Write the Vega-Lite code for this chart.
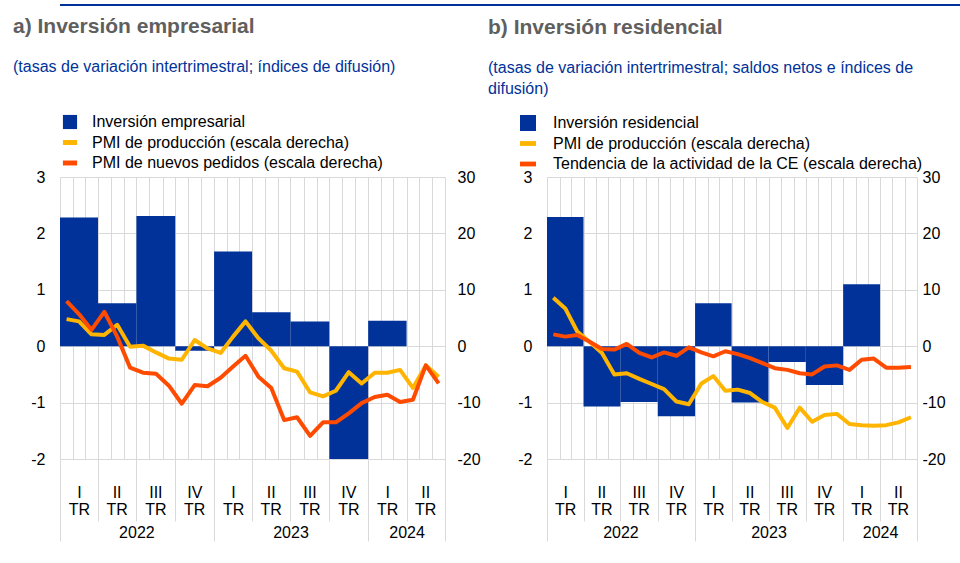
{
  "$schema": "https://vega.github.io/schema/vega-lite/v6.json",
  "padding": {"left": 13, "top": 4, "right": 5, "bottom": 5},
  "background": "white",
  "config": {
    "font": "Liberation Sans",
    "view": {"stroke": null},
    "axis": {"labelFont": "Liberation Sans", "labelFontSize": 16, "labelColor": "#000000"},
    "legend": {"labelFont": "Liberation Sans"}
  },
  "datasets": {
    "barras_a": [
      {"inicio": "2022-01-01", "fin": "2022-04-01", "valor": 2.28},
      {"inicio": "2022-04-01", "fin": "2022-07-01", "valor": 0.76},
      {"inicio": "2022-07-01", "fin": "2022-10-01", "valor": 2.31},
      {"inicio": "2022-10-01", "fin": "2023-01-01", "valor": -0.08},
      {"inicio": "2023-01-01", "fin": "2023-04-01", "valor": 1.68},
      {"inicio": "2023-04-01", "fin": "2023-07-01", "valor": 0.6},
      {"inicio": "2023-07-01", "fin": "2023-10-01", "valor": 0.44},
      {"inicio": "2023-10-01", "fin": "2024-01-01", "valor": -2.0},
      {"inicio": "2024-01-01", "fin": "2024-04-01", "valor": 0.45}
    ],
    "lineas_a": [
      {"fecha": "2022-01-01", "prod": 4.8, "ped": 8.0},
      {"fecha": "2022-02-01", "prod": 4.4, "ped": 5.7},
      {"fecha": "2022-03-01", "prod": 2.1, "ped": 2.9},
      {"fecha": "2022-04-01", "prod": 2.0, "ped": 6.1},
      {"fecha": "2022-05-01", "prod": 3.8, "ped": 1.7},
      {"fecha": "2022-06-01", "prod": -0.1, "ped": -3.8},
      {"fecha": "2022-07-01", "prod": 0.1, "ped": -4.7},
      {"fecha": "2022-08-01", "prod": -1.1, "ped": -4.9},
      {"fecha": "2022-09-01", "prod": -2.2, "ped": -7.0},
      {"fecha": "2022-10-01", "prod": -2.4, "ped": -10.2},
      {"fecha": "2022-11-01", "prod": 1.1, "ped": -6.9},
      {"fecha": "2022-12-01", "prod": -0.4, "ped": -7.1},
      {"fecha": "2023-01-01", "prod": -1.2, "ped": -5.6},
      {"fecha": "2023-02-01", "prod": 1.7, "ped": -3.6},
      {"fecha": "2023-03-01", "prod": 4.4, "ped": -1.7},
      {"fecha": "2023-04-01", "prod": 1.4, "ped": -5.4},
      {"fecha": "2023-05-01", "prod": -0.8, "ped": -7.4},
      {"fecha": "2023-06-01", "prod": -3.9, "ped": -13.1},
      {"fecha": "2023-07-01", "prod": -4.5, "ped": -12.6},
      {"fecha": "2023-08-01", "prod": -8.2, "ped": -15.9},
      {"fecha": "2023-09-01", "prod": -8.9, "ped": -13.5},
      {"fecha": "2023-10-01", "prod": -7.9, "ped": -13.5},
      {"fecha": "2023-11-01", "prod": -4.6, "ped": -11.9},
      {"fecha": "2023-12-01", "prod": -6.6, "ped": -10.1},
      {"fecha": "2024-01-01", "prod": -4.7, "ped": -9.0},
      {"fecha": "2024-02-01", "prod": -4.7, "ped": -8.6},
      {"fecha": "2024-03-01", "prod": -4.2, "ped": -9.9},
      {"fecha": "2024-04-01", "prod": -7.4, "ped": -9.5},
      {"fecha": "2024-05-01", "prod": -3.4, "ped": -3.4},
      {"fecha": "2024-06-01", "prod": -5.4, "ped": -6.6}
    ],
    "barras_b": [
      {"inicio": "2022-01-01", "fin": "2022-04-01", "valor": 2.29},
      {"inicio": "2022-04-01", "fin": "2022-07-01", "valor": -1.07},
      {"inicio": "2022-07-01", "fin": "2022-10-01", "valor": -0.99},
      {"inicio": "2022-10-01", "fin": "2023-01-01", "valor": -1.24},
      {"inicio": "2023-01-01", "fin": "2023-04-01", "valor": 0.76},
      {"inicio": "2023-04-01", "fin": "2023-07-01", "valor": -1.0},
      {"inicio": "2023-07-01", "fin": "2023-10-01", "valor": -0.28},
      {"inicio": "2023-10-01", "fin": "2024-01-01", "valor": -0.69},
      {"inicio": "2024-01-01", "fin": "2024-04-01", "valor": 1.1}
    ],
    "lineas_b": [
      {"fecha": "2022-01-01", "prod": 8.6, "tend": 2.1},
      {"fecha": "2022-02-01", "prod": 6.7, "tend": 1.7},
      {"fecha": "2022-03-01", "prod": 2.6, "tend": 2.0},
      {"fecha": "2022-04-01", "prod": 0.8, "tend": 0.8},
      {"fecha": "2022-05-01", "prod": -1.2, "tend": -0.5},
      {"fecha": "2022-06-01", "prod": -5.0, "tend": -0.6},
      {"fecha": "2022-07-01", "prod": -4.8, "tend": 0.4},
      {"fecha": "2022-08-01", "prod": -5.8, "tend": -1.2},
      {"fecha": "2022-09-01", "prod": -6.7, "tend": -2.0},
      {"fecha": "2022-10-01", "prod": -7.6, "tend": -1.1},
      {"fecha": "2022-11-01", "prod": -9.8, "tend": -1.7},
      {"fecha": "2022-12-01", "prod": -10.3, "tend": -0.2},
      {"fecha": "2023-01-01", "prod": -6.6, "tend": -1.1},
      {"fecha": "2023-02-01", "prod": -5.3, "tend": -1.8},
      {"fecha": "2023-03-01", "prod": -7.9, "tend": -0.9},
      {"fecha": "2023-04-01", "prod": -7.7, "tend": -1.4},
      {"fecha": "2023-05-01", "prod": -8.3, "tend": -2.1},
      {"fecha": "2023-06-01", "prod": -9.9, "tend": -3.0},
      {"fecha": "2023-07-01", "prod": -10.9, "tend": -3.9},
      {"fecha": "2023-08-01", "prod": -14.5, "tend": -4.2},
      {"fecha": "2023-09-01", "prod": -10.9, "tend": -4.8},
      {"fecha": "2023-10-01", "prod": -13.4, "tend": -5.0},
      {"fecha": "2023-11-01", "prod": -12.2, "tend": -3.6},
      {"fecha": "2023-12-01", "prod": -12.0, "tend": -3.4},
      {"fecha": "2024-01-01", "prod": -13.8, "tend": -4.2},
      {"fecha": "2024-02-01", "prod": -14.0, "tend": -2.4},
      {"fecha": "2024-03-01", "prod": -14.1, "tend": -2.2},
      {"fecha": "2024-04-01", "prod": -14.0, "tend": -3.8},
      {"fecha": "2024-05-01", "prod": -13.5, "tend": -3.8},
      {"fecha": "2024-06-01", "prod": -12.6, "tend": -3.7}
    ]
  },
  "spacing": 9,
  "vconcat": [
    {
      "width": 942,
      "height": 2,
      "data": {"values": [{"v": 1}]},
      "mark": {"type": "rule", "color": "#003299", "strokeWidth": 2},
      "encoding": {"y": {"field": "v", "type": "quantitative", "scale": {"domain": [0, 1]}, "axis": null}}
    },
    {
      "spacing": 7,
      "resolve": {"scale": {"color": "independent"}, "legend": {"color": "independent"}},
      "hconcat": [
        {
          "width": 385,
          "height": 282,
          "title": {
            "text": "a) Inversión empresarial",
            "subtitle": "(tasas de variación intertrimestral; índices de difusión)",
            "anchor": "start", "frame": "group", "dx": -47, "offset": 39,
            "font": "Liberation Sans", "fontSize": 21, "fontWeight": "bold", "color": "#5f5f5f",
            "subtitleFont": "Liberation Sans", "subtitleFontSize": 16, "subtitleColor": "#003299",
            "subtitlePadding": 22, "subtitleLineHeight": 21
          },
          "resolve": {"scale": {"x": "independent", "y": "independent"}},
          "layer": [
            {
              "data": {"name": "barras_a"},
              "mark": {"type": "bar"},
              "encoding": {
                "x": {
                  "field": "inicio", "type": "temporal",
                  "scale": {"type": "utc", "domain": [{"year": 2022, "month": 1, "date": 1, "utc": true}, {"year": 2024, "month": 7, "date": 1, "utc": true}], "nice": false},
                  "axis": {
                    "orient": "bottom", "title": null, "tickCount": {"interval": "month", "step": 1},
                    "grid": true, "gridColor": "#d9d9d9", "gridWidth": 1, "domain": false, "labels": false,
                    "ticks": true, "tickColor": "#d9d9d9", "tickWidth": 1,
                    "tickSize": {"condition": {"test": "utcmonth(datum.value) == 0 || (utcyear(datum.value) == 2024 && utcmonth(datum.value) == 6)", "value": 82}, "value": 62},
                    "tickOpacity": {"condition": {"test": "utcmonth(datum.value) % 3 != 0", "value": 0}, "value": 1}
                  }
                },
                "x2": {"field": "fin"},
                "y": {
                  "field": "valor", "type": "quantitative",
                  "scale": {"domain": [-2, 3], "nice": false},
                  "axis": {"orient": "left", "title": null, "values": [-2, -1, 0, 1, 2, 3], "labelExpr": "'' + datum.value", "grid": true, "gridColor": "#d9d9d9", "domain": false, "ticks": false, "labelPadding": 15}
                },
                "y2": {"datum": 0},
                "color": {
                  "datum": "Inversión empresarial", "type": "nominal",
                  "scale": {"domain": ["Inversión empresarial", "PMI de producción (escala derecha)", "PMI de nuevos pedidos (escala derecha)"], "range": ["#003299", "#ffb400", "#ff4b00"]},
                  "legend": {
                    "orient": "none", "legendX": 2, "legendY": -63, "title": null, "direction": "vertical",
                    "symbolSize": 200, "labelFontSize": 16, "labelColor": "#000000", "labelOffset": 14,
                    "rowPadding": 4.5, "labelLimit": 600, "padding": 0, "symbolStrokeWidth": 0,
                    "encode": {
                      "symbols": {
                        "update": {
                          "shape": {"signal": "datum.value == 'Inversión empresarial' ? 'square' : 'M-1,-0.35H1V0.35H-1Z'"},
                          "fill": {"signal": "datum.value == 'Inversión empresarial' ? '#003299' : (datum.value == 'PMI de producción (escala derecha)' ? '#ffb400' : '#ff4b00')"},
                          "stroke": {"value": "transparent"},
                          "opacity": {"value": 1}
                        }
                      }
                    }
                  }
                }
              }
            },
            {
              "data": {"name": "lineas_a"},
              "mark": {"type": "line", "strokeWidth": 4, "strokeJoin": "round"},
              "encoding": {
                "x": {
                  "field": "fecha", "timeUnit": "utcyearmonth", "type": "temporal", "bandPosition": 0.5,
                  "scale": {"type": "utc", "domain": [{"year": 2022, "month": 1, "date": 1, "utc": true}, {"year": 2024, "month": 7, "date": 1, "utc": true}], "nice": false},
                  "axis": {
                    "orient": "bottom", "title": null,
                    "values": [
                      {"year": 2022, "month": 2, "date": 15, "utc": true}, {"year": 2022, "month": 5, "date": 15, "utc": true},
                      {"year": 2022, "month": 8, "date": 15, "utc": true}, {"year": 2022, "month": 11, "date": 15, "utc": true},
                      {"year": 2023, "month": 2, "date": 15, "utc": true}, {"year": 2023, "month": 5, "date": 15, "utc": true},
                      {"year": 2023, "month": 8, "date": 15, "utc": true}, {"year": 2023, "month": 11, "date": 15, "utc": true},
                      {"year": 2024, "month": 2, "date": 15, "utc": true}, {"year": 2024, "month": 5, "date": 15, "utc": true}
                    ],
                    "labelExpr": "[['I','II','III','IV'][floor(utcmonth(datum.value)/3)], 'TR']",
                    "grid": false, "domain": false, "ticks": false, "labelPadding": 25, "labelLineHeight": 17.5,
                    "labelOverlap": false, "labelFlush": false, "labelBound": false
                  }
                },
                "y": {
                  "field": "prod", "type": "quantitative",
                  "scale": {"domain": [-20, 30], "nice": false},
                  "axis": {"orient": "right", "title": null, "values": [-20, -10, 0, 10, 20, 30], "labelExpr": "'' + datum.value", "grid": false, "domain": false, "ticks": false, "labelPadding": 12}
                },
                "color": {"datum": "PMI de producción (escala derecha)", "type": "nominal"}
              }
            },
            {
              "data": {"name": "lineas_a"},
              "mark": {"type": "line", "strokeWidth": 4, "strokeJoin": "round"},
              "encoding": {
                "x": {
                  "field": "fecha", "timeUnit": "utcyearmonth", "type": "temporal", "bandPosition": 0.5,
                  "scale": {"type": "utc", "domain": [{"year": 2022, "month": 1, "date": 1, "utc": true}, {"year": 2024, "month": 7, "date": 1, "utc": true}], "nice": false},
                  "axis": {
                    "orient": "bottom", "title": null,
                    "values": [{"year": 2022, "month": 7, "date": 1, "utc": true}, {"year": 2023, "month": 7, "date": 1, "utc": true}, {"year": 2024, "month": 4, "date": 1, "utc": true}],
                    "labelExpr": "'' + utcyear(datum.value)",
                    "grid": false, "domain": false, "ticks": false, "labelPadding": 65,
                    "labelOverlap": false, "labelFlush": false, "labelBound": false
                  }
                },
                "y": {
                  "field": "ped", "type": "quantitative",
                  "scale": {"domain": [-20, 30], "nice": false},
                  "axis": null
                },
                "color": {"datum": "PMI de nuevos pedidos (escala derecha)", "type": "nominal"}
              }
            }
          ]
        },
        {
          "width": 370,
          "height": 282,
          "title": {
            "text": "b) Inversión residencial",
            "subtitle": ["(tasas de variación intertrimestral; saldos netos e índices de", "difusión)"],
            "anchor": "start", "frame": "group", "dx": -59, "offset": 18,
            "font": "Liberation Sans", "fontSize": 21, "fontWeight": "bold", "color": "#5f5f5f",
            "subtitleFont": "Liberation Sans", "subtitleFontSize": 16, "subtitleColor": "#003299",
            "subtitlePadding": 22, "subtitleLineHeight": 21
          },
          "resolve": {"scale": {"x": "independent", "y": "independent"}},
          "layer": [
            {
              "data": {"name": "barras_b"},
              "mark": {"type": "bar"},
              "encoding": {
                "x": {
                  "field": "inicio", "type": "temporal",
                  "scale": {"type": "utc", "domain": [{"year": 2022, "month": 1, "date": 1, "utc": true}, {"year": 2024, "month": 7, "date": 1, "utc": true}], "nice": false},
                  "axis": {
                    "orient": "bottom", "title": null, "tickCount": {"interval": "month", "step": 1},
                    "grid": true, "gridColor": "#d9d9d9", "gridWidth": 1, "domain": false, "labels": false,
                    "ticks": true, "tickColor": "#d9d9d9", "tickWidth": 1,
                    "tickSize": {"condition": {"test": "utcmonth(datum.value) == 0 || (utcyear(datum.value) == 2024 && utcmonth(datum.value) == 6)", "value": 82}, "value": 62},
                    "tickOpacity": {"condition": {"test": "utcmonth(datum.value) % 3 != 0", "value": 0}, "value": 1}
                  }
                },
                "x2": {"field": "fin"},
                "y": {
                  "field": "valor", "type": "quantitative",
                  "scale": {"domain": [-2, 3], "nice": false},
                  "axis": {"orient": "left", "title": null, "values": [-2, -1, 0, 1, 2, 3], "labelExpr": "'' + datum.value", "grid": true, "gridColor": "#d9d9d9", "domain": false, "ticks": false, "labelPadding": 15}
                },
                "y2": {"datum": 0},
                "color": {
                  "datum": "Inversión residencial", "type": "nominal",
                  "scale": {"domain": ["Inversión residencial", "PMI de producción (escala derecha)", "Tendencia de la actividad de la CE (escala derecha)"], "range": ["#003299", "#ffb400", "#ff4b00"]},
                  "legend": {
                    "orient": "none", "legendX": -27, "legendY": -62, "title": null, "direction": "vertical",
                    "symbolSize": 256, "labelFontSize": 16, "labelColor": "#000000", "labelOffset": 17,
                    "rowPadding": 4.5, "labelLimit": 600, "padding": 0, "symbolStrokeWidth": 0,
                    "encode": {
                      "symbols": {
                        "update": {
                          "shape": {"signal": "datum.value == 'Inversión residencial' ? 'square' : 'M-1,-0.3H1V0.3H-1Z'"},
                          "fill": {"signal": "datum.value == 'Inversión residencial' ? '#003299' : (datum.value == 'PMI de producción (escala derecha)' ? '#ffb400' : '#ff4b00')"},
                          "stroke": {"value": "transparent"},
                          "opacity": {"value": 1}
                        }
                      }
                    }
                  }
                }
              }
            },
            {
              "data": {"name": "lineas_b"},
              "mark": {"type": "line", "strokeWidth": 4, "strokeJoin": "round"},
              "encoding": {
                "x": {
                  "field": "fecha", "timeUnit": "utcyearmonth", "type": "temporal", "bandPosition": 0.5,
                  "scale": {"type": "utc", "domain": [{"year": 2022, "month": 1, "date": 1, "utc": true}, {"year": 2024, "month": 7, "date": 1, "utc": true}], "nice": false},
                  "axis": {
                    "orient": "bottom", "title": null,
                    "values": [
                      {"year": 2022, "month": 2, "date": 15, "utc": true}, {"year": 2022, "month": 5, "date": 15, "utc": true},
                      {"year": 2022, "month": 8, "date": 15, "utc": true}, {"year": 2022, "month": 11, "date": 15, "utc": true},
                      {"year": 2023, "month": 2, "date": 15, "utc": true}, {"year": 2023, "month": 5, "date": 15, "utc": true},
                      {"year": 2023, "month": 8, "date": 15, "utc": true}, {"year": 2023, "month": 11, "date": 15, "utc": true},
                      {"year": 2024, "month": 2, "date": 15, "utc": true}, {"year": 2024, "month": 5, "date": 15, "utc": true}
                    ],
                    "labelExpr": "[['I','II','III','IV'][floor(utcmonth(datum.value)/3)], 'TR']",
                    "grid": false, "domain": false, "ticks": false, "labelPadding": 25, "labelLineHeight": 17.5,
                    "labelOverlap": false, "labelFlush": false, "labelBound": false
                  }
                },
                "y": {
                  "field": "prod", "type": "quantitative",
                  "scale": {"domain": [-20, 30], "nice": false},
                  "axis": {"orient": "right", "title": null, "values": [-20, -10, 0, 10, 20, 30], "labelExpr": "'' + datum.value", "grid": false, "domain": false, "ticks": false, "labelPadding": 5}
                },
                "color": {"datum": "PMI de producción (escala derecha)", "type": "nominal"}
              }
            },
            {
              "data": {"name": "lineas_b"},
              "mark": {"type": "line", "strokeWidth": 4, "strokeJoin": "round"},
              "encoding": {
                "x": {
                  "field": "fecha", "timeUnit": "utcyearmonth", "type": "temporal", "bandPosition": 0.5,
                  "scale": {"type": "utc", "domain": [{"year": 2022, "month": 1, "date": 1, "utc": true}, {"year": 2024, "month": 7, "date": 1, "utc": true}], "nice": false},
                  "axis": {
                    "orient": "bottom", "title": null,
                    "values": [{"year": 2022, "month": 7, "date": 1, "utc": true}, {"year": 2023, "month": 7, "date": 1, "utc": true}, {"year": 2024, "month": 4, "date": 1, "utc": true}],
                    "labelExpr": "'' + utcyear(datum.value)",
                    "grid": false, "domain": false, "ticks": false, "labelPadding": 65,
                    "labelOverlap": false, "labelFlush": false, "labelBound": false
                  }
                },
                "y": {
                  "field": "tend", "type": "quantitative",
                  "scale": {"domain": [-20, 30], "nice": false},
                  "axis": null
                },
                "color": {"datum": "Tendencia de la actividad de la CE (escala derecha)", "type": "nominal"}
              }
            }
          ]
        }
      ]
    }
  ]
}
